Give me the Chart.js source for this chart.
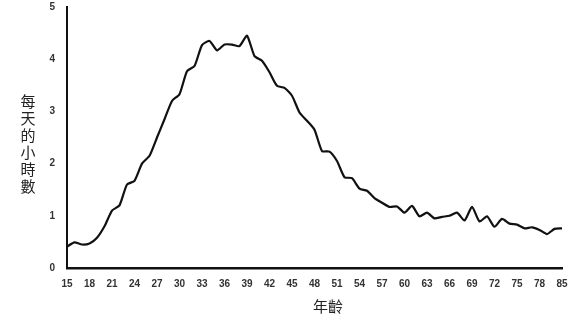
<!DOCTYPE html>
<html>
<head>
<meta charset="utf-8">
<script src="https://cdn.jsdelivr.net/npm/chart.js@4/dist/chart.umd.min.js"></script>
<style>
  html, body { margin: 0; padding: 0; background: #fff; }
  #wrap { width: 580px; height: 316px; }
</style>
</head>
<body>
<div id="wrap"><canvas id="myChart" width="580" height="316"></canvas></div>
<script>
// ages 15..80, then the last bucket is labelled 85
var ages = [];
for (var a = 15; a <= 80; a++) ages.push(String(a));
ages.push('85');

// hours per day
var hours = [
  0.41, 0.49, 0.45, 0.47, 0.58, 0.80, 1.10, 1.20, 1.60, 1.67,
  2.00, 2.15, 2.50, 2.85, 3.20, 3.33, 3.77, 3.87, 4.27, 4.35,
  4.17, 4.28, 4.28, 4.25, 4.45, 4.06, 3.97, 3.75, 3.49, 3.45,
  3.30, 2.98, 2.82, 2.65, 2.24, 2.23, 2.05, 1.74, 1.72, 1.52,
  1.48, 1.34, 1.25, 1.17, 1.18, 1.06, 1.19, 0.99, 1.06, 0.95,
  0.98, 1.00, 1.06, 0.91, 1.17, 0.89, 0.99, 0.79, 0.94, 0.85,
  0.83, 0.76, 0.78, 0.73, 0.65, 0.75, 0.76
];

var yTicks = [0, 1, 2, 3, 4, 5];
var yTitle = '每天的小時數';
var xTitle = '年齡';

// draws the stacked y title and the x title
var titlesPlugin = {
  id: 'titles',
  afterDraw: function(chart) {
    var ctx = chart.ctx;
    ctx.save();
    ctx.fillStyle = '#222';
    ctx.font = '15px "Noto Sans CJK TC"';
    ctx.textAlign = 'center';
    ctx.textBaseline = 'middle';
    var chars = Array.from(yTitle);
    for (var i = 0; i < chars.length; i++) {
      ctx.fillText(chars[i], 28, 101 + i * 17);
    }
    ctx.fillText(xTitle, 328, 306);
    ctx.restore();
  }
};

window.onload = function() {
  var ctx = document.getElementById('myChart').getContext('2d');
  var myChart = new Chart(ctx, {
    type: 'line',
    data: {
      labels: ages,
      datasets: [{
        data: hours,
        borderColor: '#111',
        borderWidth: 2.2,
        pointRadius: 0,
        tension: 0.2,
        fill: false
      }]
    },
    options: {
      responsive: false,
      animation: false,
      layout: { padding: { left: 0, right: 18, top: 7, bottom: 0 } },
      plugins: {
        legend: { display: false },
        tooltip: { enabled: false }
      },
      scales: {
        x: {
          offset: false,
          grid: { display: false, drawTicks: false },
          border: { display: true, color: '#111', width: 2.5 },
          afterFit: function(s) {
            s.height = 48;
            s.paddingLeft = 0;
            s.paddingRight = 0;
          },
          ticks: {
            autoSkip: false,
            maxRotation: 0,
            padding: 10,
            color: '#333',
            font: { family: 'Liberation Sans', size: 10, weight: 'bold' },
            callback: function(v, i) { return i % 3 === 0 ? ages[i] : ''; }
          }
        },
        y: {
          min: 0,
          max: 5,
          grid: { display: false, drawTicks: false },
          border: { display: true, color: '#111', width: 2 },
          afterFit: function(s) {
            s.width = 67;
            s.paddingTop = 0;
            s.paddingBottom = 0;
          },
          afterBuildTicks: function(s) {
            s.ticks = yTicks.map(function(v) { return { value: v }; });
          },
          ticks: {
            padding: 12,
            color: '#333',
            font: { family: 'Liberation Sans', size: 10, weight: 'bold' }
          }
        }
      }
    },
    plugins: [titlesPlugin]
  });
};
</script>
</body>
</html>
